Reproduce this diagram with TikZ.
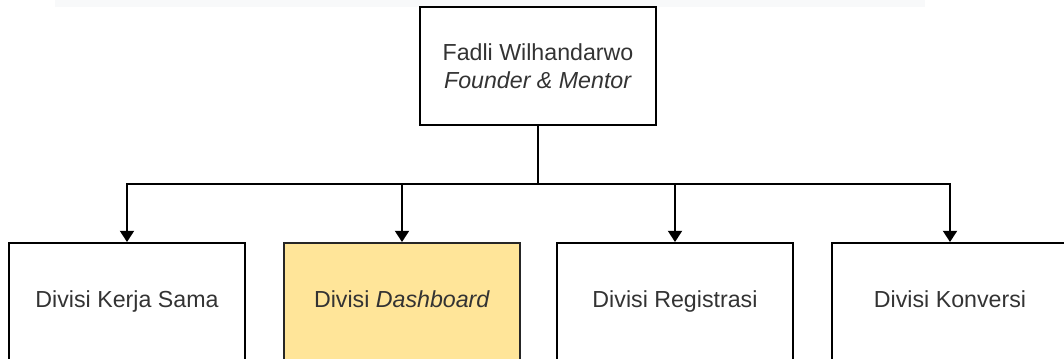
\documentclass[tikz,border=0pt]{standalone}
\usepackage{fontspec}
\setmainfont{Liberation Sans}
\usetikzlibrary{arrows.meta}
\definecolor{boxyellow}{HTML}{FFE599}
\definecolor{topstrip}{HTML}{F8F9FA}

\begin{document}
\begin{tikzpicture}[x=0.025cm, y=-0.025cm,
        divbox/.style={draw=black, line width=1.4pt, minimum width=5.9cm, minimum height=2.95cm,
            inner sep=0pt, align=center, text=black!80, font=\fontsize{16.5}{19.5}\selectfont},
        unitbox/.style={divbox, text height=12pt, text depth=3.5pt},
        link/.style={line width=1.4pt, draw=black},
        arrow/.style={link, -{Triangle[width=10pt, length=8pt]}}]
        \clip (0,0) rectangle (1064,358);
        \useasboundingbox (0,0) rectangle (1064,358);
        \fill[topstrip] (55,0) rectangle (925,7);

        \node[divbox] (founder) at (538,66) {Fadli Wilhandarwo\\\textit{Founder \& Mentor}};

        \node[unitbox] (kerja) at (127,302) {Divisi Kerja Sama};
        \node[unitbox, fill=boxyellow, draw=black!85] (dashboard) at (402,302) {Divisi \textit{Dashboard}};
        \node[unitbox] (registrasi) at (675,302) {Divisi Registrasi};
        \node[unitbox] (konversi) at (950,302) {Divisi Konversi};

        % bus line between the founder and the divisions
        \coordinate (bus) at (538,184);
        \draw[link] (founder) -- (bus);
        \foreach \div in {kerja, dashboard, registrasi, konversi}
            \draw[arrow] (bus) -| (\div);
\end{tikzpicture}
\end{document}
